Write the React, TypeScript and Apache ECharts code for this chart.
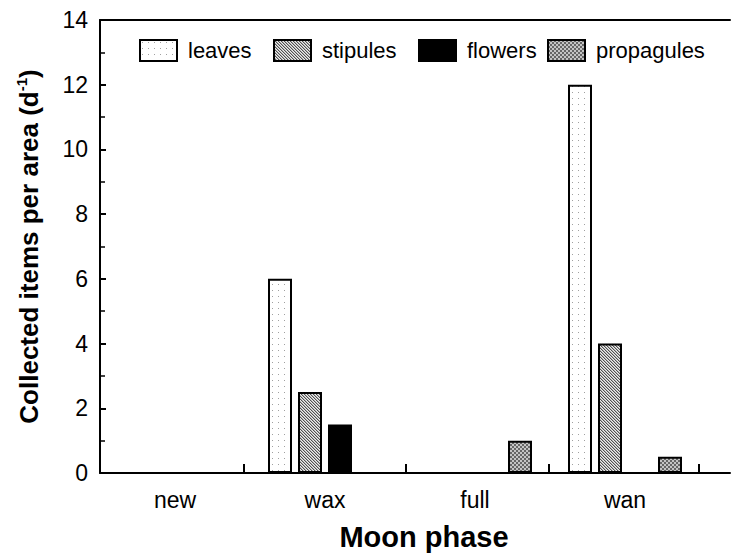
import React, { useEffect, useRef } from "react";
import * as echarts from "echarts";

const categories = ["new", "wax", "full", "wan"];
const seriesNames = ["leaves", "stipules", "flowers", "propagules"];
const leaves = [0, 6, 0, 12];
const stipules = [0, 2.5, 0, 4];
const flowers = [0, 1.5, 0, 0];
const propagules = [0, 0, 1, 0.5];
const yTicks = [0, 2, 4, 6, 8, 10, 12, 14];
const xTickPositions = [0.96, 2.04, 2.99, 3.99];

const FONT = 'Arial, "Liberation Sans", Helvetica, sans-serif';
const legendLefts = [139, 273, 418, 547];

function makePattern(size: number, draw: (ctx: CanvasRenderingContext2D) => void) {
  const c = document.createElement("canvas");
  c.width = size;
  c.height = size;
  const ctx = c.getContext("2d")!;
  draw(ctx);
  return { image: c, repeat: "repeat" as const };
}

export default function App() {
  const ref = useRef<HTMLDivElement>(null);
  useEffect(() => {
    if (!ref.current) return;
    const chart = echarts.init(ref.current, undefined, { renderer: "svg" });

    const dots = makePattern(6, (ctx) => {
      ctx.fillStyle = "#ffffff";
      ctx.fillRect(0, 0, 6, 6);
      ctx.fillStyle = "#a0a0a0";
      ctx.fillRect(2, 2, 1, 1);
    });
    const hatch = makePattern(3, (ctx) => {
      ctx.fillStyle = "#ececec";
      ctx.fillRect(0, 0, 3, 3);
      for (let i = 0; i < 3; i++) {
        ctx.fillStyle = "#505050";
        ctx.fillRect(i, i, 1, 1);
        ctx.fillStyle = "#b4b4b4";
        ctx.fillRect((i + 1) % 3, i, 1, 1);
      }
    });
    const checker = makePattern(4, (ctx) => {
      ctx.fillStyle = "#666666";
      ctx.fillRect(0, 0, 4, 4);
      ctx.fillStyle = "#c4c4c4";
      ctx.fillRect(0, 0, 2, 2);
      ctx.fillRect(2, 2, 2, 2);
    });

    const fills = [dots, hatch, "#000000", checker];
    const values = [leaves, stipules, flowers, propagules];

    const series = seriesNames.map((name, si) => ({
      name,
      type: "bar" as const,
      xAxisIndex: 0,
      yAxisIndex: 0,
      barWidth: 24,
      barGap: "25%",
      data: values[si].map((v, i) => [i + 0.5, v]),
      itemStyle: {
        color: fills[si] as any,
        borderColor: "#000",
        borderWidth: 2,
      },
    }));

    const legends = seriesNames.map((name, i) => ({
      top: 39,
      left: legendLefts[i],
      padding: 0,
      itemWidth: 37,
      itemHeight: 21,
      icon: "rect",
      selectedMode: false,
      textStyle: { fontSize: 22, color: "#000", fontFamily: FONT, padding: [0, 0, 0, 6] },
      data: [name],
    }));

    chart.setOption({
      animation: false,
      textStyle: { fontFamily: FONT },
      grid: { left: 100, top: 20, right: 4, bottom: 85, containLabel: false },
      legend: legends,
      xAxis: [
        {
          type: "value",
          min: 0,
          max: 4.2,
          position: "bottom",
          splitLine: { show: false },
          axisLine: { show: true, lineStyle: { color: "#000", width: 2 } },
          axisTick: {
            show: true,
            inside: true,
            length: 9,
            lineStyle: { color: "#000", width: 2 },
            customValues: xTickPositions,
          },
          axisLabel: {
            show: true,
            fontSize: 23,
            color: "#000",
            margin: 15,
            customValues: categories.map((_, i) => i + 0.5),
            formatter: (v: number) => categories[Math.floor(v)] ?? "",
          },
          name: "Moon phase",
          nameLocation: "middle",
          nameGap: 49,
          nameTextStyle: { fontSize: 29, fontWeight: "bold", color: "#000", padding: [0, 0, 0, 18] },
        },
        {
          type: "value",
          min: 0,
          max: 4.2,
          position: "top",
          splitLine: { show: false },
          axisLine: { show: true, lineStyle: { color: "#000", width: 2 } },
          axisTick: { show: false },
          axisLabel: { show: false },
        },
      ],
      yAxis: {
        type: "value",
        min: 0,
        max: 14,
        interval: 2,
        splitLine: { show: false },
        axisLine: { show: true, lineStyle: { color: "#000", width: 2 } },
        axisTick: { show: true, inside: true, length: 6, lineStyle: { color: "#000", width: 2 } },
        minorTick: { show: true, splitNumber: 2, length: 5, lineStyle: { color: "#000", width: 1.5 } },
        axisLabel: {
          fontSize: 23,
          color: "#000",
          margin: 12,
          customValues: yTicks,
        },
        name: "{a|Collected items per area (d}{s|-1}{a|)}",
        nameLocation: "middle",
        nameGap: 56,
        nameRotate: 90,
        nameTextStyle: {
          color: "#000",
          rich: {
            a: { fontSize: 26, fontWeight: "bold", color: "#000", fontFamily: FONT, lineHeight: 30 },
            s: { fontSize: 15, fontWeight: "bold", color: "#000", fontFamily: FONT, verticalAlign: "top", lineHeight: 30 },
          },
        },
      },
      series,
    });
    return () => chart.dispose();
  }, []);
  return <div ref={ref} style={{ width: 734, height: 558, position: "absolute", left: 0, top: 0 }} />;
}
